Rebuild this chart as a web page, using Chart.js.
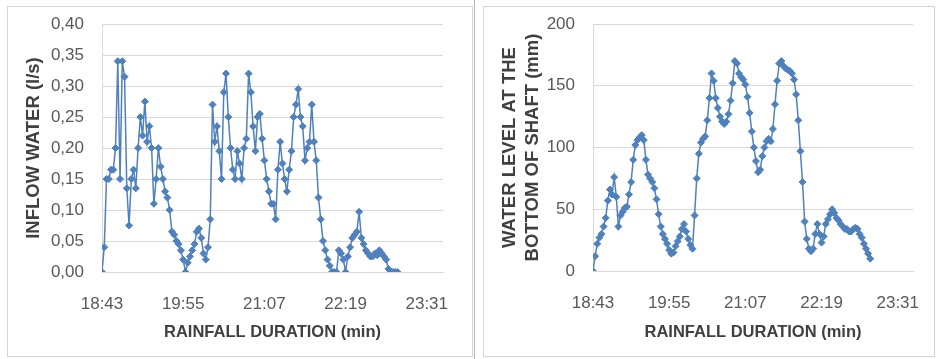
<!DOCTYPE html>
<html>
<head>
<meta charset="utf-8">
<script src="https://cdn.jsdelivr.net/npm/chart.js@4.4.0/dist/chart.umd.min.js"></script>
<style>
  html, body { margin: 0; padding: 0; background: #fff; }
  body { width: 936px; height: 359px; position: relative; overflow: hidden; }
  .panel { position: absolute; top: 6px; height: 351px; box-sizing: border-box; border: 1px solid #d4d4d4; }
  #p1 { left: 7px; width: 466px; }
  #p2 { left: 483px; width: 452px; }
  #divider { position: absolute; left: 474px; top: 0; width: 1px; height: 359px; background: #b4b4b4; }
  canvas { position: absolute; }
  #c1 { left: 8px; top: 7px; }
  #c2 { left: 484px; top: 7px; }
</style>
</head>
<body>
<div class="panel" id="p1"></div>
<div id="divider"></div>
<div class="panel" id="p2"></div>
<canvas id="c1" width="463" height="349"></canvas>
<canvas id="c2" width="450" height="349"></canvas>
<script>
// sampling every 2 min starting 18:43
const stepMinutes = 2;
const timeTicks = ['18:43', '19:55', '21:07', '22:19', '23:31'];
const tickEvery = 72;      // minutes between labelled ticks
const axisEnd = 302.4;     // axis runs a bit past 23:31

// inflow water (l/s)
const inflow = [
  0, 0.04, 0.15, 0.15, 0.165, 0.165, 0.20, 0.34, 0.15, 0.34,
  0.315, 0.135, 0.075, 0.15, 0.165, 0.135, 0.20, 0.25, 0.22, 0.275,
  0.21, 0.235, 0.20, 0.11, 0.15, 0.20, 0.17, 0.15, 0.13, 0.12,
  0.10, 0.065, 0.06, 0.05, 0.045, 0.035, 0.02, 0.00, 0.015, 0.025,
  0.035, 0.045, 0.065, 0.07, 0.055, 0.03, 0.02, 0.04, 0.085, 0.27,
  0.21, 0.235, 0.195, 0.15, 0.29, 0.32, 0.25, 0.20, 0.165, 0.15,
  0.195, 0.175, 0.15, 0.20, 0.215, 0.32, 0.29, 0.235, 0.195, 0.25,
  0.255, 0.215, 0.18, 0.15, 0.13, 0.11, 0.11, 0.085, 0.165, 0.21,
  0.175, 0.15, 0.13, 0.165, 0.195, 0.25, 0.27, 0.295, 0.25, 0.235,
  0.18, 0.20, 0.21, 0.27, 0.21, 0.18, 0.12, 0.085, 0.05, 0.035,
  0.02, 0.01, 0.00, 0.00, 0.00, 0.035, 0.03, 0.02, 0.00, 0.025,
  0.04, 0.055, 0.06, 0.065, 0.097, 0.055, 0.045, 0.035, 0.03, 0.025,
  0.025, 0.03, 0.027, 0.035, 0.03, 0.025, 0.02, 0.005, 0.00, 0.00,
  0.00, 0.00
];

// water level at the bottom of the shaft (mm)
const waterLevel = [
  0, 12, 22, 27, 30, 36, 43, 57, 66, 62,
  76, 60, 36, 45, 48, 51, 52, 62, 72, 90,
  102, 106, 108, 110, 106, 90, 78, 75, 72, 67,
  58, 46, 36, 30, 26, 22, 17, 14, 15, 20,
  24, 28, 34, 38, 32, 26, 21, 18, 45, 75,
  95, 104, 107, 109, 122, 140, 160, 154, 140, 132,
  125, 121, 119, 121, 127, 138, 152, 170, 168, 160,
  157, 155, 151, 141, 128, 113, 100, 89, 80, 82,
  93, 100, 105, 107, 105, 115, 135, 154, 168, 170,
  166, 164, 163, 162, 160, 155, 143, 122, 97, 72,
  40, 26, 18, 16, 18, 30, 38, 30, 23, 28,
  38, 42, 46, 50, 47, 43, 41, 38, 36, 34,
  34, 32, 32, 34, 35, 34, 30, 27, 22, 18,
  14, 10
];

const FONT = 'Liberation Sans';
const BLUE = '#4f81bd';
const GRID = '#d9d9d9';

function makeChart(id, values, yTitle, yOpts, yWidth, xHeight, rightPad) {
  const points = values.map((v, i) => ({ x: i * stepMinutes, y: v }));
  return new Chart(document.getElementById(id), {
    type: 'line',
    data: {
      datasets: [{
        data: points,
        borderColor: BLUE,
        borderWidth: 1.5,
        pointStyle: 'rectRot',
        pointRadius: 3.5,
        pointBackgroundColor: BLUE,
        pointBorderColor: BLUE,
        pointBorderWidth: 1,
        tension: 0
      }]
    },
    options: {
      responsive: false,
      animation: false,
      layout: { padding: { top: 17, right: rightPad, left: 0, bottom: 0 } },
      plugins: { legend: { display: false }, tooltip: { enabled: false } },
      scales: {
        x: {
          type: 'linear',
          min: 0,
          max: axisEnd,
          afterFit: s => { s.height = xHeight; s.paddingLeft = 0; s.paddingRight = 0; },
          afterBuildTicks: s => { s.ticks = timeTicks.map((_, i) => ({ value: i * tickEvery })); },
          grid: { display: false, drawTicks: false },
          border: { display: true, color: GRID },
          ticks: {
            padding: 22,
            maxRotation: 0,
            autoSkip: false,
            color: '#595959',
            font: { family: FONT, size: 17 },
            callback: v => timeTicks[Math.round(v / tickEvery)]
          },
          title: {
            display: true,
            text: 'RAINFALL DURATION (min)',
            color: '#404040',
            font: { family: FONT, size: 16.5, weight: 'bold' },
            padding: { top: 0, bottom: 14 }
          }
        },
        y: {
          min: yOpts.min,
          max: yOpts.max,
          afterFit: s => { s.width = yWidth; s.paddingTop = 0; s.paddingBottom = 0; },
          grid: { color: GRID, drawTicks: false },
          border: { display: true, color: GRID },
          ticks: {
            stepSize: yOpts.step,
            padding: 18,
            color: '#595959',
            font: { family: FONT, size: 17 },
            callback: yOpts.fmt
          },
          title: {
            display: true,
            text: yTitle,
            color: '#404040',
            font: { family: FONT, size: 18.5, weight: 'bold', lineHeight: 1.25 },
            padding: { top: 14, bottom: 0 }
          }
        }
      }
    }
  });
}

makeChart('c1', inflow, 'INFLOW WATER (l/s)',
  { min: 0, max: 0.4, step: 0.05, fmt: v => v.toFixed(2).replace('.', ',') },
  94, 84, 28);

makeChart('c2', waterLevel, ['WATER LEVEL AT THE', 'BOTTOM OF SHAFT (mm)'],
  { min: 0, max: 200, step: 50, fmt: v => String(v) },
  109, 85, 21);
</script>
</body>
</html>
